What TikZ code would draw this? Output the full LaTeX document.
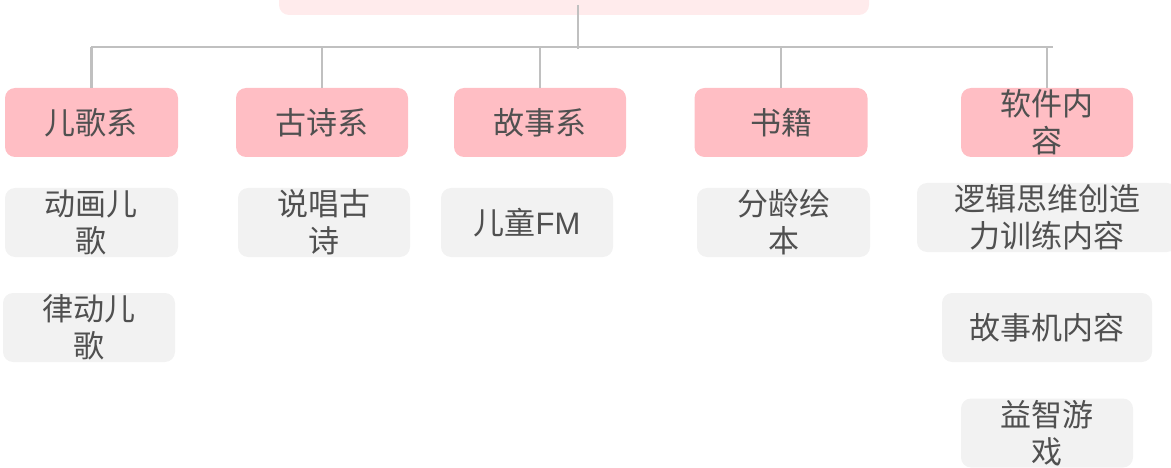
\documentclass[tikz,border=0pt]{standalone}
\usepackage{fontspec}
\setmainfont{Noto Sans CJK SC}
\newfontfamily\latinfont{Liberation Sans}
\begin{document}
\begin{tikzpicture}[x=1pt,y=-1pt,
  box/.style={rounded corners=10pt,inner sep=0pt,minimum height=69pt,align=center,
    text=txtgray,font=\fontsize{31}{37}\selectfont},
  catbox/.style={box,fill=catpink},
  leafbox/.style={box,fill=leafgray},
  conn/.style={draw=linegray,line width=2.8pt}]
\definecolor{catpink}{RGB}{255,190,196}
\definecolor{rootpink}{RGB}{255,235,236}
\definecolor{leafgray}{RGB}{242,242,242}
\definecolor{linegray}{RGB}{192,192,192}
\definecolor{txtgray}{RGB}{80,80,80}
\useasboundingbox (0,0) rectangle (1171,468);
% root
\node[box,fill=rootpink,minimum width=590pt] (root) at (574,-19.5) {};
% categories
\node[catbox,minimum width=173pt] (p1) at (91.5,122.5) {儿歌系};
\node[catbox,minimum width=172pt] (p2) at (322,122.5) {古诗系};
\node[catbox,minimum width=172pt] (p3) at (540,122.5) {故事系};
\node[catbox,minimum width=173pt] (p4) at (781,122.5) {书籍};
\node[catbox,minimum width=172pt] (p5) at (1047,122.5) {软件内\\容};
% leaves
\node[leafbox,minimum width=173pt] (g1) at (91.5,222.5) {动画儿\\歌};
\node[leafbox,minimum width=172pt] (g2) at (89,327.5) {律动儿\\歌};
\node[leafbox,minimum width=172pt] (g3) at (324,222.5) {说唱古\\诗};
\node[leafbox,minimum width=172pt] (g4) at (527,222.5) {儿童{\latinfont FM}};
\node[leafbox,minimum width=173pt] (g5) at (783.5,222.5) {分龄绘\\本};
\node[leafbox,minimum width=260pt] (g6) at (1047,217.5) {逻辑思维创造\\力训练内容};
\node[leafbox,minimum width=210pt] (g7) at (1047,327.5) {故事机内容};
\node[leafbox,minimum width=172pt] (g8) at (1047,433) {益智游\\戏};
% connectors
\coordinate (busL) at (91,47);
\coordinate (busR) at (1053,47);
\coordinate (rootfoot) at (578,49);
\coordinate (roottop) at (578,5);
\draw[conn] (busL) -- (busR);
\draw[conn] (roottop) -- (rootfoot);
\foreach \n in {p1,p2,p3,p4,p5}{
  \draw[conn] (\n.north) -- (\n.north |- busL);
}
\end{tikzpicture}
\end{document}
